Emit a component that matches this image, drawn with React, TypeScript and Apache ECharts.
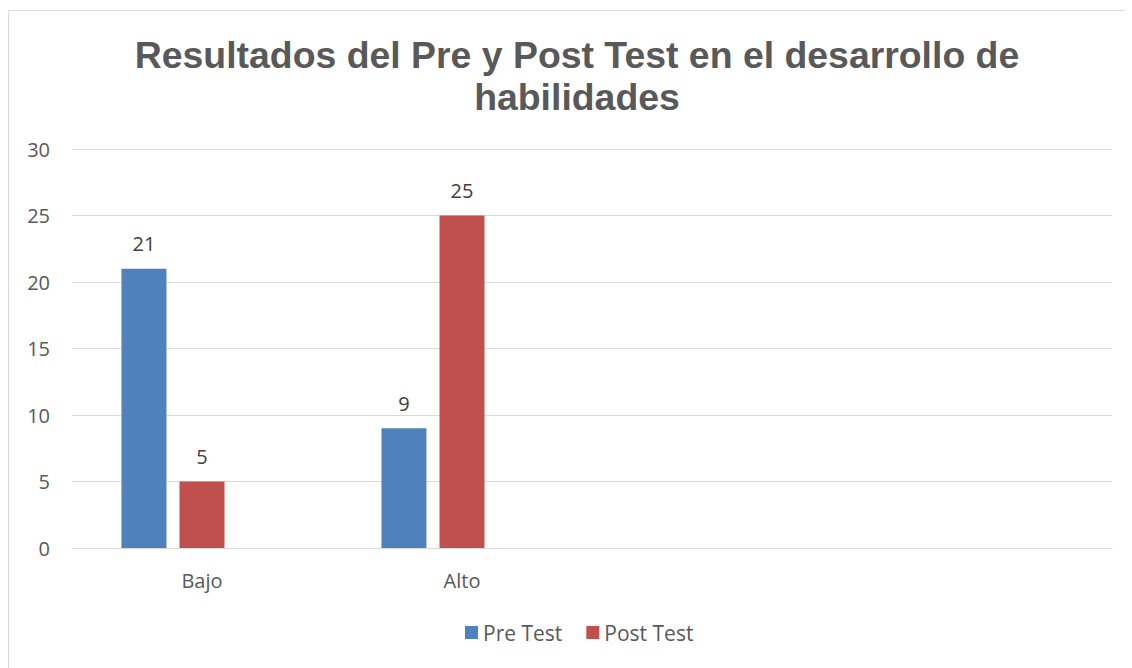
import React, { useEffect, useRef } from "react";
import * as echarts from "echarts";

const categories = ["Bajo", "Alto", "", ""];
const preTest = [21, 9, null, null];
const postTest = [5, 25, null, null];
const thirdSeries = [null, null, null, null];
const titleText = "Resultados del Pre y Post Test en el desarrollo de\nhabilidades";

export default function App() {
  const ref = useRef<HTMLDivElement>(null);
  useEffect(() => {
    const chart = echarts.init(ref.current!, null, { renderer: "svg" });
    const labelStyle = {
      show: true,
      position: "top",
      distance: 15,
      color: "#404040",
      fontSize: 20,
      fontFamily: "Open Sans",
    };
    chart.setOption({
      animation: false,
      backgroundColor: "#ffffff",
      graphic: [
        {
          type: "rect",
          shape: { x: 0.5, y: 2.5, width: 1300, height: 800 },
          style: { fill: "none", stroke: "#d9d9d9", lineWidth: 1 },
          silent: true,
        },
      ],
      title: {
        text: titleText,
        left: 564,
        top: 21,
        textAlign: "center",
        textStyle: {
          fontFamily: "Liberation Sans",
          fontWeight: "bold",
          fontSize: 37.4,
          lineHeight: 42,
          color: "#595959",
        },
      },
      legend: {
        data: ["Pre Test", "Post Test"],
        top: 609,
        left: 452,
        icon: "rect",
        itemWidth: 13,
        itemHeight: 13,
        itemGap: 24,
        textStyle: { fontSize: 21, color: "#595959", fontFamily: "Open Sans" },
      },
      grid: { left: 64, right: 20, top: 141, bottom: 120, containLabel: false },
      xAxis: {
        type: "category",
        data: categories,
        axisLine: { lineStyle: { color: "#d9d9d9", width: 1 } },
        axisTick: { show: false },
        axisLabel: { color: "#595959", fontSize: 20, margin: 22, fontFamily: "Open Sans" },
      },
      yAxis: {
        type: "value",
        min: 0,
        max: 30,
        interval: 5,
        axisLine: { show: false },
        axisTick: { show: false },
        axisLabel: { color: "#595959", fontSize: 20, margin: 22, fontFamily: "Open Sans" },
        splitLine: { lineStyle: { color: "#d9d9d9", width: 1 } },
      },
      series: [
        {
          name: "Pre Test",
          type: "bar",
          data: preTest,
          barWidth: 45,
          barGap: "29%",
          itemStyle: { color: "#4F81BD" },
          label: labelStyle,
        },
        {
          name: "Post Test",
          type: "bar",
          data: postTest,
          barWidth: 45,
          barGap: "29%",
          itemStyle: { color: "#C0504D" },
          label: labelStyle,
        },
        {
          name: "Serie 3",
          type: "bar",
          data: thirdSeries,
          barWidth: 45,
          barGap: "29%",
          itemStyle: { color: "#9BBB59" },
        },
      ],
    });
    return () => chart.dispose();
  }, []);
  return <div ref={ref} style={{ width: 1124, height: 660 }} />;
}
